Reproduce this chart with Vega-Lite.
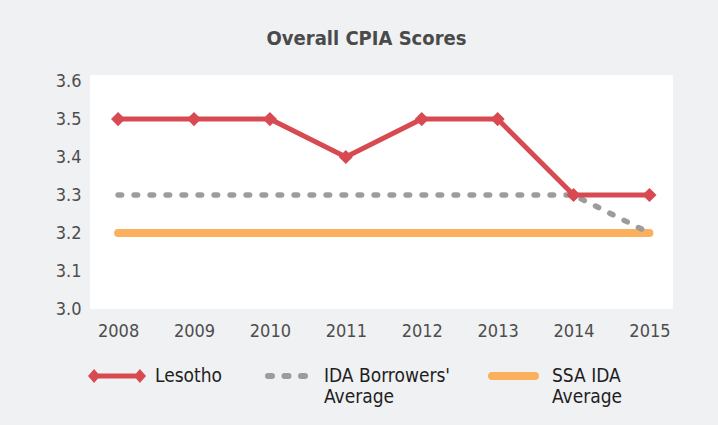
{
  "$schema": "https://vega.github.io/schema/vega-lite/v6.json",
  "width": 583,
  "height": 234,
  "autosize": {"type": "none"},
  "padding": {"left": 90, "top": 75, "right": 45, "bottom": 116},
  "background": "#f0f1f3",
  "title": {
    "text": "Overall CPIA Scores",
    "font": "DejaVu Sans Condensed",
    "fontSize": 20,
    "fontWeight": "bold",
    "color": "#4a4a4a",
    "anchor": "middle",
    "offset": 23,
    "dx": -15
  },
  "data": {
    "values": [
      {"series": "Lesotho", "year": 2008, "value": 3.5},
      {"series": "Lesotho", "year": 2009, "value": 3.5},
      {"series": "Lesotho", "year": 2010, "value": 3.5},
      {"series": "Lesotho", "year": 2011, "value": 3.4},
      {"series": "Lesotho", "year": 2012, "value": 3.5},
      {"series": "Lesotho", "year": 2013, "value": 3.5},
      {"series": "Lesotho", "year": 2014, "value": 3.3},
      {"series": "Lesotho", "year": 2015, "value": 3.3},
      {"series": "IDA Borrowers' Average", "year": 2008, "value": 3.3},
      {"series": "IDA Borrowers' Average", "year": 2009, "value": 3.3},
      {"series": "IDA Borrowers' Average", "year": 2010, "value": 3.3},
      {"series": "IDA Borrowers' Average", "year": 2011, "value": 3.3},
      {"series": "IDA Borrowers' Average", "year": 2012, "value": 3.3},
      {"series": "IDA Borrowers' Average", "year": 2013, "value": 3.3},
      {"series": "IDA Borrowers' Average", "year": 2014, "value": 3.3},
      {"series": "IDA Borrowers' Average", "year": 2015, "value": 3.2},
      {"series": "SSA IDA Average", "year": 2008, "value": 3.2},
      {"series": "SSA IDA Average", "year": 2009, "value": 3.2},
      {"series": "SSA IDA Average", "year": 2010, "value": 3.2},
      {"series": "SSA IDA Average", "year": 2011, "value": 3.2},
      {"series": "SSA IDA Average", "year": 2012, "value": 3.2},
      {"series": "SSA IDA Average", "year": 2013, "value": 3.2},
      {"series": "SSA IDA Average", "year": 2014, "value": 3.2},
      {"series": "SSA IDA Average", "year": 2015, "value": 3.2}
    ]
  },
  "encoding": {
    "x": {
      "field": "year",
      "type": "quantitative",
      "scale": {"domain": [2007.63, 2015.31], "nice": false, "zero": false},
      "axis": {
        "title": null,
        "values": [2008, 2009, 2010, 2011, 2012, 2013, 2014, 2015],
        "format": "d",
        "grid": false,
        "domain": false,
        "ticks": false,
        "tickSize": 0,
        "labelPadding": 13,
        "labelFont": "DejaVu Sans Condensed",
        "labelFontSize": 18,
        "labelColor": "#4d4d4d"
      }
    },
    "y": {
      "field": "value",
      "type": "quantitative",
      "scale": {"domain": [3.0, 3.616], "nice": false, "zero": false},
      "axis": {
        "title": null,
        "values": [3.0, 3.1, 3.2, 3.3, 3.4, 3.5, 3.6],
        "format": ".1f",
        "grid": false,
        "domain": false,
        "ticks": false,
        "tickSize": 0,
        "labelPadding": 9,
        "labelFont": "DejaVu Sans Condensed",
        "labelFontSize": 18,
        "labelColor": "#4d4d4d"
      }
    }
  },
  "layer": [
    {
      "transform": [{"filter": "datum.series == 'SSA IDA Average'"}],
      "mark": {"type": "line", "color": "#fbb05e", "strokeWidth": 8, "strokeCap": "round"}
    },
    {
      "transform": [{"filter": "datum.series == 'IDA Borrowers\\' Average'"}],
      "mark": {"type": "line", "color": "#9e9b9b", "strokeWidth": 5.5, "strokeCap": "round", "strokeDash": [3.5, 12.5]}
    },
    {
      "transform": [{"filter": "datum.series == 'Lesotho'"}],
      "mark": {"type": "line", "color": "#d84a51", "strokeWidth": 5}
    },
    {
      "transform": [{"filter": "datum.series == 'Lesotho'"}],
      "mark": {"type": "point", "shape": "diamond", "size": 200, "filled": true, "color": "#d84a51", "opacity": 1}
    },
    {
      "transform": [{"filter": "datum.year < 0"}],
      "mark": {"type": "point", "filled": true, "opacity": 1},
      "encoding": {
        "color": {
          "field": "series",
          "type": "nominal",
          "scale": {
            "domain": ["Lesotho", "IDA Borrowers' Average", "SSA IDA Average"],
            "range": ["#d84a51", "#9e9b9b", "#fbb05e"]
          },
          "legend": {
            "title": null,
            "orient": "none",
            "legendX": -2,
            "legendY": 263,
            "direction": "horizontal",
            "columns": 3,
            "columnPadding": 34,
            "padding": 0,
            "symbolSize": 3364,
            "symbolOpacity": 1,
            "symbolStrokeWidth": 0,
            "labelFont": "DejaVu Sans Condensed",
            "labelFontSize": 19,
            "labelColor": "#1e1e1e",
            "labelOffset": 9,
            "labelLimit": 300,
            "labelBaseline": "top",
            "labelLineHeight": 24,
            "labelExpr": "indexof(datum.label, ' Average') > 0 ? [replace(datum.label, ' Average', ''), 'Average'] : [datum.label, '']"
          }
        },
        "shape": {
          "field": "series",
          "type": "nominal",
          "scale": {
            "domain": ["Lesotho", "IDA Borrowers' Average", "SSA IDA Average"],
            "range": [
              "M-0.79,0.224L0.79,0.224L0.79,0.396L-0.79,0.396Z M-1,0.31L-0.79,0.07L-0.58,0.31L-0.79,0.55Z M0.58,0.31L0.79,0.07L1,0.31L0.79,0.55Z",
              "M-0.621,0.207L-0.482,0.207Q-0.379,0.207,-0.379,0.31Q-0.379,0.413,-0.482,0.413L-0.621,0.413Q-0.724,0.413,-0.724,0.31Q-0.724,0.207,-0.621,0.207Z M-0.052,0.207L0.087,0.207Q0.19,0.207,0.19,0.31Q0.19,0.413,0.087,0.413L-0.052,0.413Q-0.155,0.413,-0.155,0.31Q-0.155,0.207,-0.052,0.207Z M0.517,0.207L0.656,0.207Q0.759,0.207,0.759,0.31Q0.759,0.413,0.656,0.413L0.517,0.413Q0.414,0.413,0.414,0.31Q0.414,0.207,0.517,0.207Z",
              "M-0.759,0.172L0.724,0.172Q0.862,0.172,0.862,0.31Q0.862,0.448,0.724,0.448L-0.759,0.448Q-0.897,0.448,-0.897,0.31Q-0.897,0.172,-0.759,0.172Z"
            ]
          }
        }
      }
    }
  ],
  "config": {
    "view": {"fill": "white", "stroke": null}
  }
}
